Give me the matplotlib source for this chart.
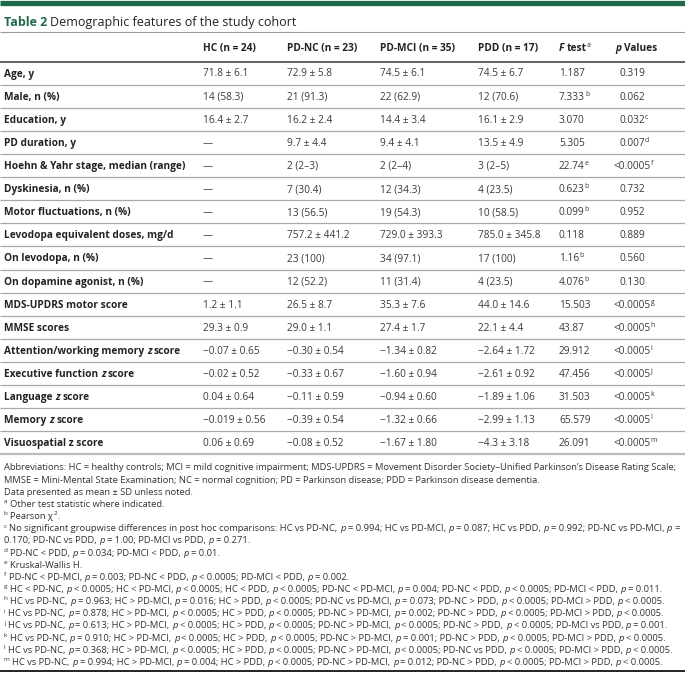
import re
import matplotlib.pyplot as plt

W, H = 685, 673

title_num = "Table 2"
title_text = "Demographic features of the study cohort"
col_heads = ["HC (n = 24)", "PD-NC (n = 23)", "PD-MCI (n = 35)", "PDD (n = 17)",
             "*F* test^{a}", "*p* Values"]

row_labels = ["Age, y", "Male, n (%)", "Education, y", "PD duration, y",
              "Hoehn & Yahr stage, median (range)", "Dyskinesia, n (%)",
              "Motor fluctuations, n (%)", "Levodopa equivalent doses, mg/d",
              "On levodopa, n (%)", "On dopamine agonist, n (%)",
              "MDS-UPDRS motor score", "MMSE scores",
              "Attention/working memory *z* score", "Executive function *z* score",
              "Language *z* score", "Memory *z* score", "Visuospatial z score"]

hc = ["71.8 ± 6.1", "14 (58.3)", "16.4 ± 2.7", "—", "—", "—", "—", "—", "—", "—",
      "1.2 ± 1.1", "29.3 ± 0.9", "−0.07 ± 0.65", "−0.02 ± 0.52", "0.04 ± 0.64",
      "−0.019 ± 0.56", "0.06 ± 0.69"]
pd_nc = ["72.9 ± 5.8", "21 (91.3)", "16.2 ± 2.4", "9.7 ± 4.4", "2 (2–3)", "7 (30.4)",
         "13 (56.5)", "757.2 ± 441.2", "23 (100)", "12 (52.2)", "26.5 ± 8.7",
         "29.0 ± 1.1", "−0.30 ± 0.54", "−0.33 ± 0.67", "−0.11 ± 0.59",
         "−0.39 ± 0.54", "−0.08 ± 0.52"]
pd_mci = ["74.5 ± 6.1", "22 (62.9)", "14.4 ± 3.4", "9.4 ± 4.1", "2 (2–4)", "12 (34.3)",
          "19 (54.3)", "729.0 ± 393.3", "34 (97.1)", "11 (31.4)", "35.3 ± 7.6",
          "27.4 ± 1.7", "−1.34 ± 0.82", "−1.60 ± 0.94", "−0.94 ± 0.60",
          "−1.32 ± 0.66", "−1.67 ± 1.80"]
pdd = ["74.5 ± 6.7", "12 (70.6)", "16.1 ± 2.9", "13.5 ± 4.9", "3 (2–5)", "4 (23.5)",
       "10 (58.5)", "785.0 ± 345.8", "17 (100)", "4 (23.5)", "44.0 ± 14.6",
       "22.1 ± 4.4", "−2.64 ± 1.72", "−2.61 ± 0.92", "−1.89 ± 1.06",
       "−2.99 ± 1.13", "−4.3 ± 3.18"]
f_test = ["1.187", "7.333^{b}", "3.070", "5.305", "22.74^{e}", "0.623^{b}", "0.099^{b}",
          "0.118", "1.16^{b}", "4.076^{b}", "15.503", "43.87", "29.912", "47.456",
          "31.503", "65.579", "26.091"]
p_vals = ["0.319", "0.062", "0.032^{c}", "0.007^{d}", "<0.0005^{f}", "0.732", "0.952",
          "0.889", "0.560", "0.130", "<0.0005^{g}", "<0.0005^{h}", "<0.0005^{i}",
          "<0.0005^{j}", "<0.0005^{k}", "<0.0005^{l}", "<0.0005^{m}"]

footnotes = [
    "Abbreviations: HC = healthy controls; MCI = mild cognitive impairment; MDS-UPDRS = Movement Disorder Society–Unified Parkinson’s Disease Rating Scale;",
    "MMSE = Mini-Mental State Examination; NC = normal cognition; PD = Parkinson disease; PDD = Parkinson disease dementia.",
    "Data presented as mean ± SD unless noted.",
    "^{a} Other test statistic where indicated.",
    "^{b} Pearson χ^{2}.",
    "^{c} No significant groupwise differences in post hoc comparisons: HC vs PD-NC, *p* = 0.994; HC vs PD-MCI, *p* = 0.087; HC vs PDD, *p* = 0.992; PD-NC vs PD-MCI, *p* =",
    "0.170; PD-NC vs PDD, *p* = 1.00; PD-MCI vs PDD, *p* = 0.271.",
    "^{d} PD-NC < PDD, *p* = 0.034; PD-MCI < PDD, *p* = 0.01.",
    "^{e} Kruskal-Wallis H.",
    "^{f} PD-NC < PD-MCI, *p* = 0.003; PD-NC < PDD, *p* < 0.0005; PD-MCI < PDD, *p* = 0.002.",
    "^{g} HC < PD-NC, *p* < 0.0005; HC < PD-MCI, *p* < 0.0005; HC < PDD, *p* < 0.0005; PD-NC < PD-MCI, *p* = 0.004; PD-NC < PDD, *p* < 0.0005; PD-MCI < PDD, *p* = 0.011.",
    "^{h} HC vs PD-NC, *p* = 0.963; HC > PD-MCI, *p* = 0.016; HC > PDD, *p* < 0.0005; PD-NC vs PD-MCI, *p* = 0.073; PD-NC > PDD, *p* < 0.0005; PD-MCI > PDD, *p* < 0.0005.",
    "^{i} HC vs PD-NC, *p* = 0.878; HC > PD-MCI, *p* < 0.0005; HC > PDD, *p* < 0.0005; PD-NC > PD-MCI, *p* = 0.002; PD-NC > PDD, *p* < 0.0005; PD-MCI > PDD, *p* < 0.0005.",
    "^{j} HC vs PD-NC, *p* = 0.613; HC > PD-MCI, *p* < 0.0005; HC > PDD, *p* < 0.0005; PD-NC > PD-MCI, *p* < 0.0005; PD-NC > PDD, *p* < 0.0005; PD-MCI vs PDD, *p* = 0.001.",
    "^{k} HC vs PD-NC, *p* = 0.910; HC > PD-MCI, *p* < 0.0005; HC > PDD, *p* < 0.0005; PD-NC > PD-MCI, *p* = 0.001; PD-NC > PDD, *p* < 0.0005; PD-MCI > PDD, *p* < 0.0005.",
    "^{l} HC vs PD-NC, *p* = 0.368; HC > PD-MCI, *p* < 0.0005; HC > PDD, *p* < 0.0005; PD-NC > PD-MCI, *p* < 0.0005; PD-NC vs PDD, *p* < 0.0005; PD-MCI > PDD, *p* < 0.0005.",
    "^{m} HC vs PD-NC, *p* = 0.994; HC > PD-MCI, *p* = 0.004; HC > PDD, *p* < 0.0005; PD-NC > PD-MCI, *p* = 0.012; PD-NC > PDD, *p* < 0.0005; PD-MCI > PDD, *p* < 0.0005.",
]

GREEN = "#1d6a4a"
FONT = "Open Sans"
plt.rcParams['font.family'] = [FONT, 'DejaVu Sans']

fig = plt.figure(figsize=(W / 100, H / 100), dpi=100)
ax = fig.add_axes([0, 0, 1, 1])
ax.set_xlim(0, W)
ax.set_ylim(H, 0)
ax.axis('off')
renderer = fig.canvas.get_renderer()

TOKEN = re.compile(r"\*([^*]+)\*|\^\{([^}]+)\}|([^*^]+)")


def parse(s):
    parts = []
    for m in TOKEN.finditer(s):
        if m.group(1):
            parts.append((m.group(1), 'italic'))
        elif m.group(2):
            parts.append((m.group(2), 'sup'))
        else:
            parts.append((m.group(3), 'normal'))
    return parts


def advance(s, **kw):
    # width incl. leading/trailing spaces
    t1 = ax.text(0, 0, "|" + s + "|", **kw)
    t2 = ax.text(0, 0, "||", **kw)
    w = t1.get_window_extent(renderer).width - t2.get_window_extent(renderer).width
    t1.remove()
    t2.remove()
    return w


def rich(x, y, s, size, weight='normal', color='#222222', ha='left'):
    parts = parse(s)
    styled = []
    for txt, kind in parts:
        if kind == 'sup':
            kw = dict(fontsize=size * 0.68, fontweight='normal', fontstyle='normal')
            dy = -size * 1.389 * 0.40
        else:
            kw = dict(fontsize=size, fontweight=weight,
                      fontstyle='italic' if kind == 'italic' else 'normal')
            dy = 0
        body = txt.lstrip(' ')
        lead = advance(' ' * (len(txt) - len(body)), **kw) if body != txt else 0.0
        styled.append((body, kind, kw, dy, lead, advance(body, **kw)))
    if ha == 'center':
        main_w = sum(l + w for _, k, _, _, l, w in styled if k != 'sup')
        x = x - main_w / 2
    for body, kind, kw, dy, lead, w in styled:
        x += lead
        ax.text(x, y + dy, body, color=color, va='baseline', ha='left', **kw)
        x += w


# top bar and title
ax.hlines(2.5, 0, W, color=GREEN, lw=3.8)
ax.text(4, 26, title_num, fontsize=9, fontweight='bold', color=GREEN, va='baseline')
ax.text(4 + advance(title_num + " ", fontsize=9, fontweight='bold'), 26, title_text,
        fontsize=9, color='#222222', va='baseline')
ax.hlines(32, 0, W, color='#9a9a9a', lw=0.8)

# header
col_x = [203, 287, 380, 478, 559, 615]
body_size = 7.3
for cx, head in zip(col_x, col_heads):
    rich(cx, 51, head, body_size, weight='bold', color='#222222')
ax.hlines(61.5, 0, W, color='#555555', lw=1.3)

# body
row_y0, row_step = 76.5, 23.12
for i, label in enumerate(row_labels):
    yb = row_y0 + i * row_step
    rich(4, yb, label, body_size, weight='bold', color='#222222')
    for cx, col in zip(col_x[:4], [hc, pd_nc, pd_mci, pdd]):
        rich(cx, yb, col[i], body_size, color='#3a3a3a')
    rich(col_x[4], yb, f_test[i], body_size, color='#3a3a3a')
    rich(632, yb, p_vals[i], body_size, color='#3a3a3a', ha='center')
    line_y = row_y0 - 3.5 + (i + 0.5) * row_step
    if i < len(row_labels) - 1:
        ax.hlines(line_y, 0, W, color='#a8a8a8', lw=0.9)
    else:
        ax.hlines(line_y, 0, W, color='#bbbbbb', lw=1.6)

# footnotes
foot_size = 6.72
foot_y0, foot_step = 470.5, 12.15
for j, note in enumerate(footnotes):
    rich(4, foot_y0 + j * foot_step, note, foot_size, color='#333333')

ax.hlines(670.5, 0, W, color='#222222', lw=1.4)

fig.savefig("out.png", dpi=100)
